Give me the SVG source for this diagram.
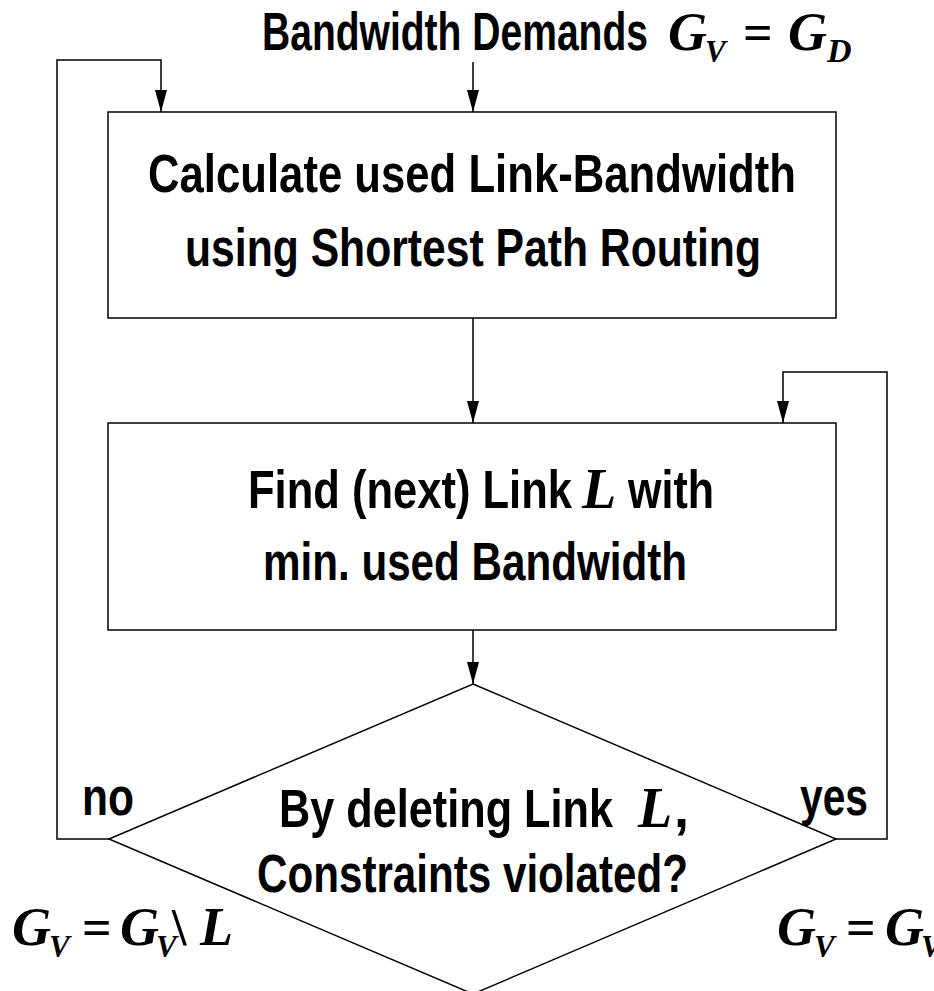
<svg xmlns="http://www.w3.org/2000/svg" width="934" height="991" viewBox="0 0 934 991">
<style>
.t{font-family:"Liberation Sans Narrow","Liberation Sans",Arial,sans-serif;font-weight:bold;font-size:54px;fill:#000}
.m{font-family:"Liberation Serif","Times New Roman",serif;font-weight:bold;font-style:italic;font-size:54px;fill:#000}
.s{font-family:"Liberation Serif","Times New Roman",serif;font-weight:bold;font-style:italic;font-size:31px;fill:#000}
.e{font-family:"Liberation Serif","Times New Roman",serif;font-weight:bold;font-size:52px;fill:#000}
.box{fill:none;stroke:#000;stroke-width:1.5}
.ln{fill:none;stroke:#000;stroke-width:1.5}
</style>
<defs>
<marker id="ah" markerWidth="22" markerHeight="12" refX="22" refY="6" orient="auto" markerUnits="userSpaceOnUse" viewBox="0 0 22 12">
<path d="M0,0 L22,6 L0,12 Z" fill="#000"/>
</marker>
</defs>
<g id="title">
<text class="t" x="262" y="50" textLength="386" lengthAdjust="spacingAndGlyphs">Bandwidth Demands</text>
<text class="m" x="668" y="50">G</text>
<text class="s" x="705" y="62">V</text>
<text class="e" x="743" y="50">=</text>
<text class="m" x="788" y="50">G</text>
<text class="s" x="827" y="62" style="font-size:34px">D</text>
</g>
<g id="box1">
<rect class="box" x="108" y="112" width="728" height="206"/>
<text class="t" x="148" y="192" textLength="648" lengthAdjust="spacingAndGlyphs">Calculate used Link-Bandwidth</text>
<text class="t" x="185" y="266" textLength="576" lengthAdjust="spacingAndGlyphs">using Shortest Path Routing</text>
</g>
<g id="box2">
<rect class="box" x="108" y="423" width="728" height="207"/>
<text class="t" x="248" y="508" textLength="324" lengthAdjust="spacingAndGlyphs">Find (next) Link</text>
<text class="m" x="582" y="508" style="font-size:56px">L</text>
<text class="t" x="628" y="508" textLength="86" lengthAdjust="spacingAndGlyphs">with</text>
<text class="t" x="263" y="580" textLength="424" lengthAdjust="spacingAndGlyphs">min. used Bandwidth</text>
</g>
<g id="decision">
<polygon class="box" points="473,684 836,839 473,994 109,839"/>
<text class="t" x="279" y="827" textLength="334" lengthAdjust="spacingAndGlyphs">By deleting Link</text>
<text class="m" x="638" y="827" style="font-size:56px">L</text>
<text class="t" x="674" y="827">,</text>
<text class="t" x="257" y="892" textLength="431" lengthAdjust="spacingAndGlyphs">Constraints violated?</text>
</g>
<g id="labels">
<text class="t" x="82" y="815" textLength="52" lengthAdjust="spacingAndGlyphs">no</text>
<text class="t" x="800" y="815" textLength="68" lengthAdjust="spacingAndGlyphs">yes</text>
<text class="m" x="12" y="945">G</text>
<text class="s" x="49" y="957">V</text>
<text class="e" x="82" y="945">=</text>
<text class="m" x="120" y="945">G</text>
<text class="s" x="156" y="957">V</text>
<text class="e" x="172" y="945">\</text>
<text class="m" x="200" y="945">L</text>
<text class="m" x="777" y="945">G</text>
<text class="s" x="814" y="957">V</text>
<text class="e" x="846" y="945">=</text>
<text class="m" x="885" y="945">G</text>
<text class="s" x="921" y="957">V</text>
</g>
<g id="connectors">
<line class="ln" x1="473" y1="62" x2="473" y2="112" marker-end="url(#ah)"/>
<polyline class="ln" points="109,839 57,839 57,60 161,60 161,112" marker-end="url(#ah)"/>
<line class="ln" x1="473" y1="318" x2="473" y2="423" marker-end="url(#ah)"/>
<line class="ln" x1="473" y1="630" x2="473" y2="684" marker-end="url(#ah)"/>
<polyline class="ln" points="836,839 887,839 887,372 783,372 783,423" marker-end="url(#ah)"/>
</g>
</svg>
